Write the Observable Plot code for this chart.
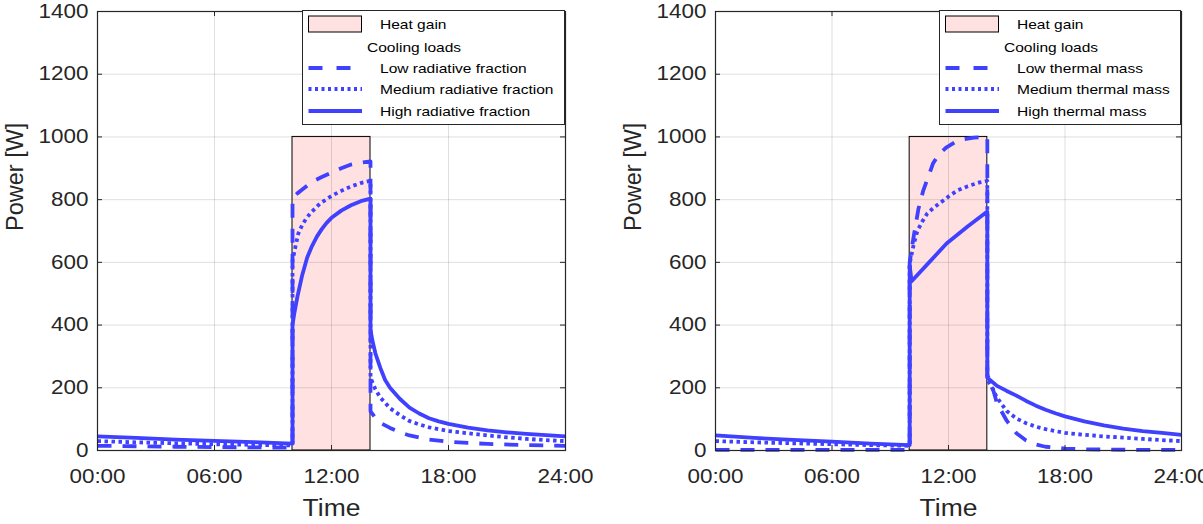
<!DOCTYPE html>
<html>
<head>
<meta charset="utf-8">
<script src="https://cdn.jsdelivr.net/npm/d3@7"></script>
<script src="https://cdn.jsdelivr.net/npm/@observablehq/plot@0.6"></script>
<style>
  html, body { margin: 0; padding: 0; background: #fff; }
  #wrap { position: relative; width: 1203px; height: 524px; overflow: hidden; background: #fff; }
  .panel { position: absolute; top: 0; }
  .legend { position: absolute; top: 0; }
</style>
</head>
<body>
<div id="wrap"></div>
<script>
// ---------- data ----------
const xTicks = [0, 6, 12, 18, 24];
const xTickLabels = ["00:00", "06:00", "12:00", "18:00", "24:00"];
const yTicks = [0, 200, 400, 600, 800, 1000, 1200, 1400];

const heatGainStart = 10;
const heatGainEnd = 14;
const heatGainPower = 1000;

// Left panel: radiative fraction
const leftLowT  = [0, 2, 4, 6, 8, 10, 10, 10.25, 10.5, 11, 11.5, 12, 12.5, 13, 13.5, 14, 14, 14.3, 14.6, 15, 15.5, 16, 17, 18, 19, 20, 22, 24];
const leftLowV  = [15, 13.5, 12, 11, 10, 9, 807, 820, 832, 857, 872, 886, 900, 912, 918, 922, 125, 100, 85, 72, 58, 48, 35, 28, 24, 21, 17, 15];
const leftMedT  = [0, 2, 4, 6, 8, 10, 10, 10.15, 10.3, 10.5, 10.75, 11, 11.4, 12, 12.5, 13, 13.5, 14, 14, 14.25, 14.5, 15, 15.5, 16, 16.5, 17, 18, 19, 20, 21, 22, 23, 24];
const leftMedV  = [30, 26, 23, 20, 18, 16, 605, 650, 692, 720, 744, 762, 787, 812, 828, 842, 853, 860, 232, 195, 169, 135, 113, 94, 83, 74, 62, 55, 48, 42, 37, 33, 30];
const leftHighT = [0, 2, 4, 6, 8, 10, 10, 10.1, 10.25, 10.5, 10.75, 11, 11.25, 11.5, 11.75, 12, 12.5, 13, 13.5, 14, 14, 14.1, 14.25, 14.5, 14.75, 15, 15.5, 16, 16.5, 17, 17.5, 18, 19, 20, 21, 22, 23, 24];
const leftHighV = [45, 40, 35, 31, 27, 22, 400, 440, 490, 560, 615, 652, 682, 706, 726, 742, 765, 782, 795, 803, 385, 350, 310, 264, 225, 200, 165, 137, 118, 103, 93, 85, 73, 64, 58, 53, 49, 45];

// Right panel: thermal mass
const rightLowT  = [0, 5, 10, 10, 10.2, 10.45, 10.7, 11, 11.2, 11.5, 11.9, 12.3, 12.8, 13.3, 14, 14, 14.2, 14.5, 15, 15.5, 16, 16.5, 17, 18, 19, 20, 22, 24];
const rightLowV  = [2, 2, 2, 600, 680, 770, 829, 880, 915, 945, 967, 982, 993, 998, 1000, 240, 215, 150, 95, 55, 32, 19, 12, 6, 4, 3, 2, 2];
const rightMedT  = [0, 2, 4, 6, 8, 10, 10, 10.2, 10.4, 10.65, 10.9, 11.25, 11.6, 12, 12.45, 13, 13.6, 14, 14, 14.2, 14.5, 15, 15.5, 16, 16.5, 17, 18, 19, 20, 21, 22, 23, 24];
const rightMedV  = [30, 26, 23, 20, 17, 15, 596, 655, 701, 730, 755, 775, 791, 810, 829, 843, 855, 860, 225, 205, 168, 126, 102, 87, 76, 68, 56, 50, 45, 41, 37, 33, 30];
const rightHighT = [0, 2, 4, 6, 8, 10, 10, 10.1, 11, 11.9, 13, 14, 14, 14.5, 15, 15.5, 16, 16.5, 17, 17.5, 18, 19, 20, 21, 22, 23, 24];
const rightHighV = [48, 40, 34, 28, 22, 17, 590, 540, 600, 660, 715, 762, 232, 206, 190, 175, 158, 143, 130, 119, 109, 93, 80, 70, 62, 56, 50];

const leftLabels  = ["Low radiative fraction", "Medium radiative fraction", "High radiative fraction"];
const rightLabels = ["Low thermal mass", "Medium thermal mass", "High thermal mass"];
const heatLabel = "Heat gain";
const coolingLabel = "Cooling loads";
const xLabel = "Time";
const yLabel = "Power [W]";

// ---------- styles ----------
const BLUE = "#4040ff";
const PINK = "#ffe1e1";
const AX = "#262626";
const FONT = "'Liberation Sans', Arial, Helvetica, sans-serif";
const STRETCH = 1.15;
const dashes = ["14,11", "3.5,3.5", null];

function toRows(T, V) { return T.map((t, i) => ({t, v: V[i]})); }

function stretchTexts(root) {
  root.querySelectorAll("text").forEach(t => {
    if (t.dataset.nostretch) return;
    const w = t.getComputedTextLength();
    if (w > 0) {
      t.setAttribute("textLength", (w * STRETCH).toFixed(2));
      t.setAttribute("lengthAdjust", "spacingAndGlyphs");
    }
  });
}

function makePanel(opts) {
  const {left, width, mL, mR, series, labels} = opts;
  const mT = 11, mB = 74, H = 524;
  const plotW = width - mL - mR;
  const plotH = H - mT - mB;
  const tick = 5;
  const lineMarks = series.map((s, i) =>
    Plot.line(toRows(s[0], s[1]), {
      x: "t", y: "v", stroke: BLUE, strokeWidth: 3.8,
      strokeDasharray: dashes[i], strokeLinecap: "butt", strokeLinejoin: "round"
    })
  );
  const svg = Plot.plot({
    width, height: H,
    marginLeft: mL, marginRight: mR, marginTop: mT, marginBottom: mB,
    style: {fontFamily: FONT, fontSize: "19px", color: AX, background: "white", overflow: "visible"},
    x: {domain: [0, 24]},
    y: {domain: [0, 1400]},
    marks: [
      Plot.rect([{x1: heatGainStart, x2: heatGainEnd, y1: 0, y2: heatGainPower}],
        {x1: "x1", x2: "x2", y1: "y1", y2: "y2", fill: PINK, stroke: "#000", strokeWidth: 1}),
      Plot.gridX(xTicks, {stroke: AX, strokeOpacity: 0.15, strokeWidth: 1}),
      Plot.gridY(yTicks, {stroke: AX, strokeOpacity: 0.15, strokeWidth: 1}),
      ...lineMarks,
      Plot.frame({stroke: AX, strokeWidth: 1.2}),
      Plot.tickY(yTicks, {y: d => d, insetRight: plotW - tick, stroke: AX}),
      Plot.tickY(yTicks, {y: d => d, insetLeft: plotW - tick, stroke: AX}),
      Plot.tickX(xTicks, {x: d => d, insetTop: plotH - tick, stroke: AX}),
      Plot.tickX(xTicks, {x: d => d, insetBottom: plotH - tick, stroke: AX}),
      Plot.axisY(yTicks, {tickSize: 0, tickPadding: 9, label: null, fill: AX, fontSize: 19.5,
        tickFormat: d => String(d)}),
      Plot.axisX(xTicks, {tickSize: 0, tickPadding: 19, label: null, fill: AX, fontSize: 19.5,
        tickFormat: d => xTickLabels[xTicks.indexOf(d)]}),
      Plot.text([xLabel], {frameAnchor: "bottom", dy: 65, fontSize: 23, fill: AX}),
      Plot.text([yLabel], {frameAnchor: "left", dx: -82, rotate: -90, fontSize: 23.5, fill: AX,
        className: "ylab"})
    ]
  });
  svg.classList.add("panel");
  svg.style.left = left + "px";
  document.getElementById("wrap").appendChild(svg);
  svg.querySelectorAll(".ylab text").forEach(t => t.dataset.nostretch = "1");
  stretchTexts(svg);

  // legend box at the top-right corner of the plot area
  const lw = opts.legendW, lh = 115;
  const lx = left + width - mR - lw, ly = 10;
  const lg = d3.create("svg").attr("class", "legend")
    .attr("width", lw + 2).attr("height", lh + 2)
    .style("left", (lx - 1) + "px").style("top", (ly - 1) + "px")
    .style("font-family", FONT);
  const g = lg.append("g").attr("transform", "translate(1,1)");
  g.append("rect").attr("x", 0.5).attr("y", 0.5).attr("width", lw - 1).attr("height", lh - 1)
    .attr("fill", "white").attr("stroke", AX).attr("stroke-width", 1);
  g.append("rect").attr("x", 6.5).attr("y", 6).attr("width", 53).attr("height", 16)
    .attr("fill", PINK).attr("stroke", "#000").attr("stroke-width", 1);
  g.append("text").attr("x", 78).attr("y", 14.7).attr("dy", "0.35em")
    .attr("font-size", 13.5).attr("fill", "#000").text(heatLabel);
  g.append("text").attr("x", 65).attr("y", 37).attr("dy", "0.35em")
    .attr("font-size", 13.5).attr("fill", "#000").text(coolingLabel);
  const rowsY = [58, 79, 101];
  labels.forEach((lab, i) => {
    g.append("line").attr("x1", 6.5).attr("x2", 60).attr("y1", rowsY[i]).attr("y2", rowsY[i])
      .attr("stroke", BLUE).attr("stroke-width", 3.8)
      .attr("stroke-dasharray", dashes[i] ? (i === 0 ? "14,14" : "3,3.5") : null);
    g.append("text").attr("x", 78).attr("y", rowsY[i]).attr("dy", "0.35em")
      .attr("font-size", 13.5).attr("fill", "#000").text(lab);
  });
  document.getElementById("wrap").appendChild(lg.node());
  stretchTexts(lg.node());
}

makePanel({
  left: 0, width: 600, mL: 97, mR: 35, legendW: 263,
  series: [[leftLowT, leftLowV], [leftMedT, leftMedV], [leftHighT, leftHighV]],
  labels: leftLabels
});
makePanel({
  left: 617, width: 586, mL: 98, mR: 22, legendW: 242,
  series: [[rightLowT, rightLowV], [rightMedT, rightMedV], [rightHighT, rightHighV]],
  labels: rightLabels
});
</script>
</body>
</html>
